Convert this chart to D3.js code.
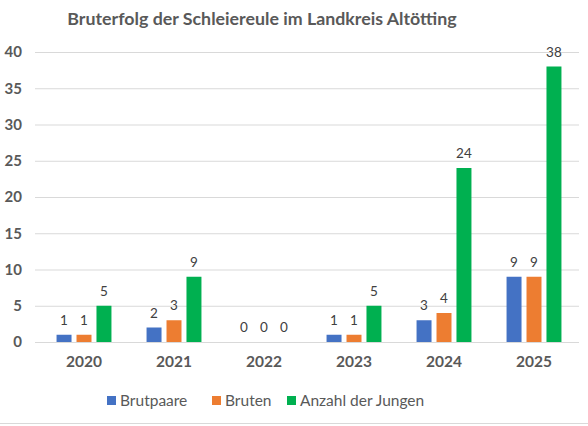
<!DOCTYPE html>
<html>
<head>
<meta charset="utf-8">
<script src="https://cdn.jsdelivr.net/npm/d3@7"></script>
<style>
  body { margin: 0; background: #fff; }
  svg text { font-family: Lato, "Open Sans", sans-serif; }
</style>
</head>
<body>
<div id="chart"></div>
<script>
// chart size
const width = 588;
const height = 426;

// data
const years = ["2020", "2021", "2022", "2023", "2024", "2025"];
const seriesNames = ["Brutpaare", "Bruten", "Anzahl der Jungen"];
const brutpaare = [1, 2, 0, 1, 3, 9];
const bruten = [1, 3, 0, 1, 4, 9];
const jungen = [5, 9, 0, 5, 24, 38];
const yTicks = [0, 5, 10, 15, 20, 25, 30, 35, 40];
const colors = ["#4472C4", "#ED7D31", "#00B050"];

const seriesValues = [brutpaare, bruten, jungen];
const rows = years.map((y, i) => ({
  year: y,
  values: seriesNames.map((s, j) => ({ key: s, value: seriesValues[j][i] }))
}));

const margin = { top: 52, right: 9, bottom: 84, left: 39 };
const plotW = width - margin.left - margin.right;
const plotH = height - margin.top - margin.bottom;

const svg = d3.select("#chart")
  .append("svg")
  .attr("width", width)
  .attr("height", height);

// title
svg.append("text")
  .attr("x", 262)
  .attr("y", 25)
  .attr("text-anchor", "middle")
  .attr("font-size", 17.8)
  .attr("font-weight", "bold")
  .attr("fill", "#595959")
  .text("Bruterfolg der Schleiereule im Landkreis Altötting");

const g = svg.append("g")
  .attr("transform", `translate(${margin.left},${margin.top})`);

// scales
const x0 = d3.scaleBand()
  .domain(years)
  .range([0, plotW])
  .paddingInner(0.39)
  .paddingOuter(0.195);

const x1 = d3.scaleBand()
  .domain(seriesNames)
  .range([0, x0.bandwidth()])
  .paddingInner(0.25);

const y = d3.scaleLinear()
  .domain([0, 40])
  .range([plotH, 0]);

const color = d3.scaleOrdinal().domain(seriesNames).range(colors);

// gridlines
g.selectAll(".grid")
  .data(yTicks)
  .enter()
  .append("line")
  .attr("x1", -4)
  .attr("x2", plotW)
  .attr("y1", d => y(d) + 0.5)
  .attr("y2", d => y(d) + 0.5)
  .attr("stroke", "#D9D9D9")
  .attr("stroke-width", 1);

// y axis labels
const yAxis = g.append("g")
  .attr("transform", "translate(-17,0)")
  .call(d3.axisLeft(y).tickValues(yTicks).tickSize(0).tickPadding(0));
yAxis.select(".domain").remove();
yAxis.selectAll("text")
  .attr("font-size", 15)
  .attr("font-weight", "bold")
  .attr("fill", "#595959")
  .attr("font-family", "Lato, sans-serif");

// x axis labels
const xAxis = g.append("g")
  .attr("transform", `translate(0,${plotH + 14})`)
  .call(d3.axisBottom(x0).tickSize(0).tickPadding(0));
xAxis.select(".domain").remove();
xAxis.selectAll("text")
  .attr("dy", "0.71em")
  .attr("font-size", 15.5)
  .attr("font-weight", "bold")
  .attr("fill", "#595959")
  .attr("font-family", "Lato, sans-serif");

// bars
const groups = g.selectAll(".year")
  .data(rows)
  .enter()
  .append("g")
  .attr("transform", d => `translate(${x0(d.year)},0)`);

groups.selectAll("rect")
  .data(d => d.values)
  .enter()
  .append("rect")
  .attr("x", d => x1(d.key))
  .attr("width", x1.bandwidth())
  .attr("y", d => y(d.value))
  .attr("height", d => plotH - y(d.value))
  .attr("fill", d => color(d.key));

// value labels
groups.selectAll(".lbl")
  .data(d => d.values)
  .enter()
  .append("text")
  .attr("x", d => x1(d.key) + x1.bandwidth() / 2)
  .attr("y", d => y(d.value) - 10)
  .attr("text-anchor", "middle")
  .attr("font-size", 13.5)
  .attr("fill", "#404040")
  .text(d => d.value);

// legend
const legendPos = [107, 212, 287];
const legend = svg.selectAll(".legend")
  .data(seriesNames)
  .enter()
  .append("g")
  .attr("transform", (d, i) => `translate(${legendPos[i]},396)`);

legend.append("rect")
  .attr("width", 9)
  .attr("height", 9)
  .attr("fill", d => color(d));

legend.append("text")
  .attr("x", 13)
  .attr("y", 10)
  .attr("font-size", 15.5)
  .attr("fill", "#595959")
  .text(d => d);

// faint sheet border at the bottom
svg.append("line")
  .attr("x1", 0).attr("x2", width)
  .attr("y1", 423.5).attr("y2", 423.5)
  .attr("stroke", "#D9D9D9");
</script>
</body>
</html>
